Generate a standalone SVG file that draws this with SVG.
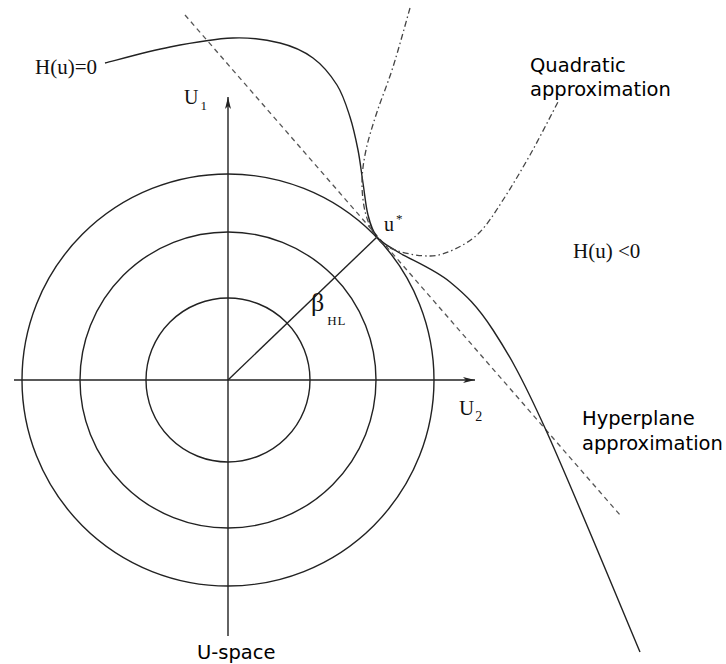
<svg xmlns="http://www.w3.org/2000/svg" width="726" height="664" viewBox="0 0 726 664">
<style>
.ln{fill:none;stroke:#222;stroke-width:1.4}
.hp{fill:none;stroke:#555;stroke-width:1.3;stroke-dasharray:5 4}
.qa{fill:none;stroke:#444;stroke-width:1.3;stroke-dasharray:6 3 1.5 3}
.serif{font-family:"Liberation Serif","Times New Roman",serif;fill:#111}
.sans{font-family:"DejaVu Sans",sans-serif;fill:#000;font-size:19.5px}
</style>
<defs>
<marker id="arr" viewBox="0 0 12 8" refX="12" refY="4" markerWidth="12" markerHeight="8" markerUnits="userSpaceOnUse" orient="auto">
<path d="M0,1 L12,4 L0,7 L3,4 Z" fill="#222"/>
</marker>
</defs>
<rect width="726" height="664" fill="#fff"/>
<g id="circles">
<circle class="ln" cx="228" cy="380" r="82"/>
<circle class="ln" cx="228" cy="380" r="148"/>
<circle class="ln" cx="228" cy="380" r="206"/>
</g>
<g id="axes">
<line class="ln" x1="14" y1="380" x2="475" y2="380" marker-end="url(#arr)"/>
<line class="ln" x1="228" y1="636" x2="228" y2="97" marker-end="url(#arr)"/>
</g>
<g id="connectors">
<line id="radius" class="ln" x1="228" y1="380" x2="377" y2="237"/>
<line id="hyperplane" class="hp" x1="185" y1="15" x2="620" y2="515"/>
<path id="limit-state" class="ln" d="M105,63 C115.8,60.3 148.7,51.2 170,47 C191.3,42.8 214.7,38.7 233,38 C251.3,37.3 266.7,39.7 280,43 C293.3,46.3 303.5,51 313,58 C322.5,65 330.8,75.2 337,85 C343.2,94.8 346.5,106.2 350,117 C353.5,127.8 355.8,139 358,150 C360.2,161 361.3,172.2 363,183 C364.7,193.8 365.7,206 368,215 C370.3,224 372,230.8 377,237 C382,243.2 385.8,244.5 398,252 C410.2,259.5 434.2,269 450,282 C465.8,295 477.2,305.7 493,330 C508.8,354.3 520.5,374.3 545,428 C569.5,481.7 624.2,614.7 640,652"/>
<path id="quadratic" class="qa" d="M410,8 C407.2,17.8 398.5,49.7 393,67 C387.5,84.3 381.5,98.2 377,112 C372.5,125.8 368.5,138.2 366,150 C363.5,161.8 362,172.2 362,183 C362,193.8 363.3,205.7 366,215 C368.7,224.3 372.7,233 378,239 C383.3,245 389.3,248.2 398,251 C406.7,253.8 420.5,256.3 430,256 C439.5,255.7 446.7,253 455,249 C463.3,245 472,240.2 480,232 C488,223.8 494.7,212.8 503,200 C511.3,187.2 520.8,171.3 530,155 C539.2,138.7 553.3,110.8 558,102"/>
</g>
<g id="label-h0"><text class="serif" x="35" y="74" font-size="21">H(u)=0</text></g>
<g id="label-u1"><text class="serif" x="184" y="104" font-size="20">U<tspan font-size="13" dx="2" dy="6">1</tspan></text></g>
<g id="label-u2"><text class="serif" x="459" y="415" font-size="21">U<tspan font-size="14" dx="1" dy="6">2</tspan></text></g>
<g id="label-ustar"><text class="serif" x="384" y="231" font-size="20">u<tspan font-size="13" dx="2" dy="-8">*</tspan></text></g>
<g id="label-beta"><text class="serif" x="311" y="311" font-size="26">β<tspan font-size="13" dx="3" dy="14" letter-spacing="1">HL</tspan></text></g>
<g id="label-hneg"><text class="serif" x="573" y="258" font-size="21">H(u) &lt;0</text></g>
<g id="label-quad"><text class="sans" x="530" y="72">Quadratic</text><text class="sans" x="530" y="96">approximation</text></g>
<g id="label-hyper"><text class="sans" x="582" y="425">Hyperplane</text><text class="sans" x="582" y="450">approximation</text></g>
<g id="label-uspace"><text class="sans" x="197" y="659">U-space</text></g>
</svg>
